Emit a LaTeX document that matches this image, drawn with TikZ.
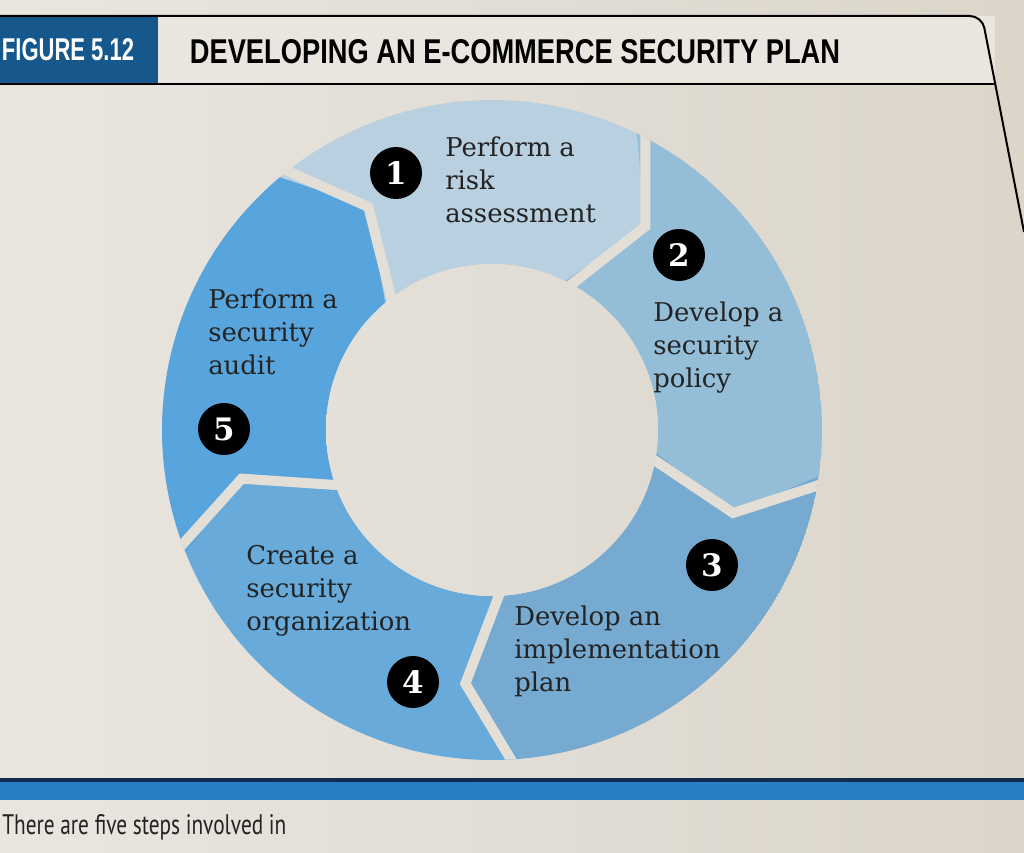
\documentclass[tikz,border=0pt]{standalone}
\usepackage{fontspec}
\setmainfont{DejaVu Serif}
\newfontfamily\headfont{Liberation Sans}
\newfontfamily\notefont{PT Sans}
\definecolor{paperL}{RGB}{233,230,224}
\definecolor{paperR}{RGB}{219,213,202}
\definecolor{gap}{RGB}{227,223,214}
\definecolor{titlebg}{RGB}{234,230,223}
\definecolor{figblue}{RGB}{22,88,140}
\definecolor{barblue}{RGB}{40,125,195}
\definecolor{navy}{RGB}{16,44,80}
\definecolor{ink}{RGB}{35,35,35}
\definecolor{segA}{RGB}{185,208,224}
\definecolor{segB}{RGB}{148,190,216}
\definecolor{segC}{RGB}{118,170,208}
\definecolor{segD}{RGB}{104,170,218}
\definecolor{segE}{RGB}{88,165,222}
\begin{document}
\begin{tikzpicture}[x=0.025cm, y=-0.025cm,
        page/.style={left color=paperL, right color=paperR},
        gapline/.style={draw=gap, line width=0.25cm, line join=miter},
        stepnum/.style={circle, fill=black, text=white, minimum size=1.3cm, inner sep=0pt, font=\fontsize{22}{22}\selectfont\bfseries},
        steptext/.style={anchor=north west, inner sep=0pt, align=left, text=ink, font=\fontsize{18.4}{23.4}\selectfont},
        frame/.style={draw=black, line width=0.05cm, rounded corners=0.3cm}]
    \useasboundingbox (0,0) rectangle (1024,853);
    \clip (0,0) rectangle (1024,853);
    \shade[page] (0,0) rectangle (1024,853);
    \fill[titlebg] (158,16) rectangle (995,84);
    \fill[figblue] (0,16) rectangle (158,84);
    \draw[frame] (0,16) -- (982,16) -- (1024,232);
    \draw[frame] (0,84) -- (995,84);
    \node[text=white, font=\headfont\bfseries] (fignum) at (68,50) {\resizebox{3.3cm}{0.55cm}{FIGURE 5.12}};
    \node[text=black, font=\headfont\bfseries] (title) at (515,52) {\resizebox{16.25cm}{0.6cm}{DEVELOPING AN E-COMMERCE SECURITY PLAN}};
    \begin{scope}[shift={(492,430)}]
        \clip (0,0) circle[radius=330];
        \foreach \s/\e/\c in {-130/-64/segA, -64/8/segB, 8/85/segC, 85/158/segD, 158/230/segE}
            \fill[\c] (\s:330) arc[start angle=\s, end angle=\e, radius=330]
                -- ({\e+11}:255) -- (\e:166) arc[start angle=\e, end angle=\s, radius=166]
                -- ({\s+11}:255) -- cycle;
        \foreach \b in {-64, 8, 85, 158, 230}
            \draw[gapline] (\b:350) -- ({\b+11}:255) -- (\b:150);
        \clip (0,0) circle[radius=166];
        \shade[page] (-492,-430) rectangle (532,423);
    \end{scope}
    \node[stepnum] (n1) at (396,173) {1};
    \node[stepnum] (n2) at (679,255) {2};
    \node[stepnum] (n3) at (712,565) {3};
    \node[stepnum] (n4) at (413,682) {4};
    \node[stepnum] (n5) at (224,429) {5};
    \node[steptext] (risk) at (445,137) {Perform a\\risk\\assessment};
    \node[steptext] (policy) at (653,302) {Develop a\\security\\policy};
    \node[steptext] (impl) at (514,606) {Develop an\\implementation\\plan};
    \node[steptext] (org) at (246,545) {Create a\\security\\organization};
    \node[steptext] (audit) at (208,289) {Perform a\\security\\audit};
    \fill[barblue] (0,780) rectangle (1024,800);
    \draw[navy, line width=0.08cm] (0,780) -- (1024,780);
    \node[anchor=north west, inner sep=0pt, text=ink] (note) at (2,814) {\resizebox{7.1cm}{0.5cm}{\notefont There are five steps involved in}};
\end{tikzpicture}
\end{document}
